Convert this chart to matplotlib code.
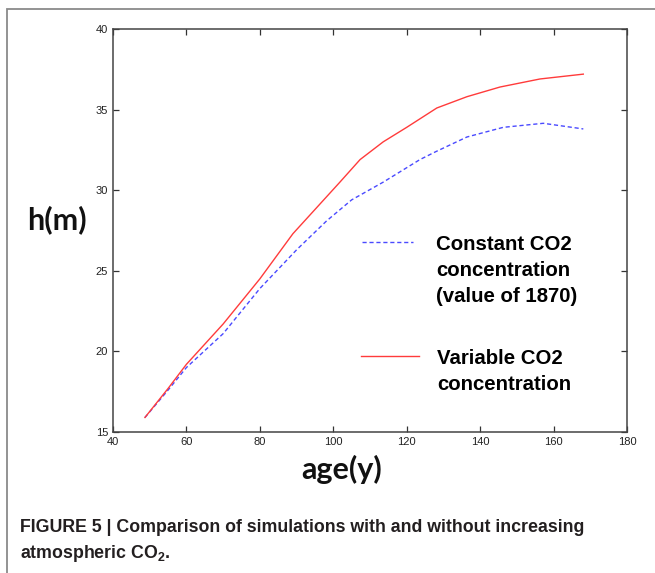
import matplotlib
matplotlib.use("Agg")
import matplotlib.pyplot as plt
from matplotlib.lines import Line2D
from matplotlib.patches import Rectangle

# ---- data ----
age_variable = [48.7, 55, 60, 70, 80, 89, 101.8, 107.3, 113.6, 120, 128.2, 136.4, 145.4, 156.3, 168.1]
h_variable = [15.9, 17.7, 19.2, 21.7, 24.5, 27.3, 30.5, 31.9, 33.0, 33.9, 35.1, 35.8, 36.4, 36.9, 37.2]
age_constant = [48.7, 55, 60, 70, 80, 90, 98.2, 105, 113.6, 123.6, 128, 136.4, 146.3, 157.2, 168.1]
h_constant = [15.9, 17.6, 19.0, 21.1, 23.9, 26.3, 28.1, 29.4, 30.5, 31.9, 32.4, 33.3, 33.9, 34.15, 33.8]

xticks = [40, 60, 80, 100, 120, 140, 160, 180]
yticks = [15, 20, 25, 30, 35, 40]
label_constant = ["Constant CO2", "concentration", "(value of 1870)"]
label_variable = ["Variable CO2", "concentration"]

plt.rcParams['mathtext.fontset'] = 'custom'
plt.rcParams['mathtext.rm'] = 'Liberation Sans:bold'
plt.rcParams['mathtext.bf'] = 'Liberation Sans:bold'

W, H = 655, 573
fig = plt.figure(figsize=(W / 100, H / 100), dpi=100)
fig.patch.set_facecolor('white')

ax = fig.add_axes([113 / W, 1 - 432 / H, (627 - 113) / W, (432 - 29) / H])

ax.plot(age_constant, h_constant, color='#4a4aff', lw=1.0, ls=(0, (3, 2)))
ax.plot(age_variable, h_variable, color='#ff3b3b', lw=1.0)

ax.set_xlim(40, 180)
ax.set_ylim(15, 40)
ax.set_xticks(xticks)
ax.set_yticks(yticks)
ax.tick_params(direction='in', length=4, width=0.9, color='#333333',
               top=True, right=True, labelsize=8, labelcolor='#222222', pad=3.5)
for lab in ax.get_xticklabels() + ax.get_yticklabels():
    lab.set_family('Liberation Sans')
for s in ax.spines.values():
    s.set_color('#444444')
    s.set_linewidth(1.1)

ax.set_xlabel('age(y)', fontsize=22, fontweight='bold', family='Lato', color='#111111')
ax.xaxis.set_label_coords(0.444, -0.057)
fig.text(57 / W, 1 - 220 / H, 'h(m)', fontsize=22, fontweight='bold', family='Lato',
         ha='center', va='center', color='#111111')

h1 = Line2D([], [], color='#4a4aff', lw=1.0, ls=(0, (3, 2)))
h2 = Line2D([], [], color='#ff3b3b', lw=1.0)
blank = Line2D([], [], color='none')
legprops = dict(family='Liberation Sans', weight='bold', size=14.7)
leg1 = ax.legend([h1, blank, blank], label_constant, frameon=False, prop=legprops,
                 loc='upper left', bbox_to_anchor=(362 / W, 1 - 234.5 / H),
                 bbox_transform=fig.transFigure, handlelength=2.5, handletextpad=1.13,
                 labelspacing=0.35, borderpad=0, borderaxespad=0)
ax.add_artist(leg1)
leg2 = ax.legend([h2, blank], label_variable, frameon=False, prop=legprops,
                 loc='upper left', bbox_to_anchor=(361 / W, 1 - 348.5 / H),
                 bbox_transform=fig.transFigure, handlelength=2.84, handletextpad=0.88,
                 labelspacing=0.35, borderpad=0, borderaxespad=0)

# outer border
fig.patches.append(Rectangle((7 / W, -0.1), 1.2, 1 - 9 / H + 0.1, transform=fig.transFigure,
                             fill=False, ec='#8a8a8a', lw=1.3))

capprops = dict(family='Liberation Sans', fontweight='bold', fontsize=12.8, color='#231f20',
                va='center', ha='left')
fig.text(20 / W, 1 - 527 / H, 'FIGURE 5 | Comparison of simulations with and without increasing', **capprops)
fig.text(20 / W, 1 - 553 / H, r'atmospheric CO$_\mathbf{2}$.', **capprops)

fig.savefig('out.png', dpi=100)
